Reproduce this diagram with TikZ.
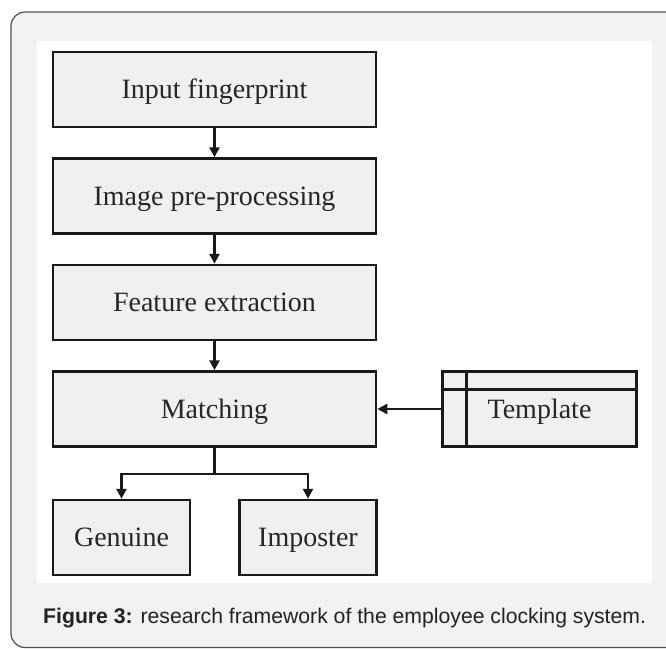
\documentclass[tikz,border=0pt]{standalone}
\usepackage{fontspec}
\setmainfont{Liberation Serif}
\newfontfamily\capfont{Liberation Sans}
\usetikzlibrary{positioning, arrows.meta}
\definecolor{framebg}{RGB}{241,242,244}
\definecolor{framegray}{RGB}{80,80,80}
\definecolor{boxfill}{RGB}{240,240,240}
\definecolor{boxline}{RGB}{25,25,25}
\definecolor{captext}{RGB}{35,35,35}

\begin{document}
\begin{tikzpicture}[x=1pt, y=-1pt, >={Triangle[length=10pt, width=10pt]},
  node distance=29pt,
  stage/.style={draw=boxline, line width=2.5pt, fill=boxfill, minimum width=323pt,
    minimum height=75pt, inner sep=0pt, text height=18.5pt, text depth=0pt,
    text=black!85, font=\fontsize{28}{30}\selectfont},
  outcome/.style={stage, minimum width=137pt},
  link/.style={->, line width=2.5pt, boxline}]

\useasboundingbox (0,0) rectangle (666,648);

%% ── outer frame and white panel ─────────────────────────────────
\begin{scope}
  \clip (0,0) rectangle (666,648);
  \fill[white] (0,0) rectangle (666,648);
  \draw[framegray, line width=1.2pt, fill=framebg, rounded corners=14pt] (11,12) rectangle (700,647.5);
  \fill[white] (37,41) rectangle (652,583);
\end{scope}

%% ── main pipeline ────────────────────────────────────────────────
\node[stage] (input) at (214.5,89.5) {Input fingerprint};
\node[stage, below=of input] (prep) {Image pre-processing};
\node[stage, below=of prep] (feat) {Feature extraction};
\node[stage, below=of feat] (match) {Matching};

%% ── template store ───────────────────────────────────────────────
\node[stage, minimum width=194pt, right=64pt of match] (tmpl) {Template};
\draw[boxline, line width=2.5pt] ([xshift=25pt]tmpl.north west) -- ([xshift=25pt]tmpl.south west);
\draw[boxline, line width=2.5pt] ([yshift=-19pt]tmpl.north west) -- ([yshift=-19pt]tmpl.north east);

%% ── decisions ────────────────────────────────────────────────────
\node[outcome] (gen) at (121.5,537.5) {Genuine};
\node[outcome] (imp) at (308,537.5) {Imposter};

%% ── connectors ───────────────────────────────────────────────────
\draw[link] (input) -- (prep);
\draw[link] (prep) -- (feat);
\draw[link] (feat) -- (match);
\draw[link] (tmpl) -- (match);
\draw[line width=2.5pt, boxline] (match.south) -- ++(0,26) coordinate (split);
\draw[link] (split) -| (gen.north);
\draw[link] (split) -| (imp.north);

%% ── caption ──────────────────────────────────────────────────────
\node[anchor=base west, inner sep=0pt, text=captext, font=\capfont\fontsize{21.2}{24}\selectfont] (caption) at (43,623)
  {\textbf{Figure 3:} research framework of the employee clocking system.};

\end{tikzpicture}
\end{document}
